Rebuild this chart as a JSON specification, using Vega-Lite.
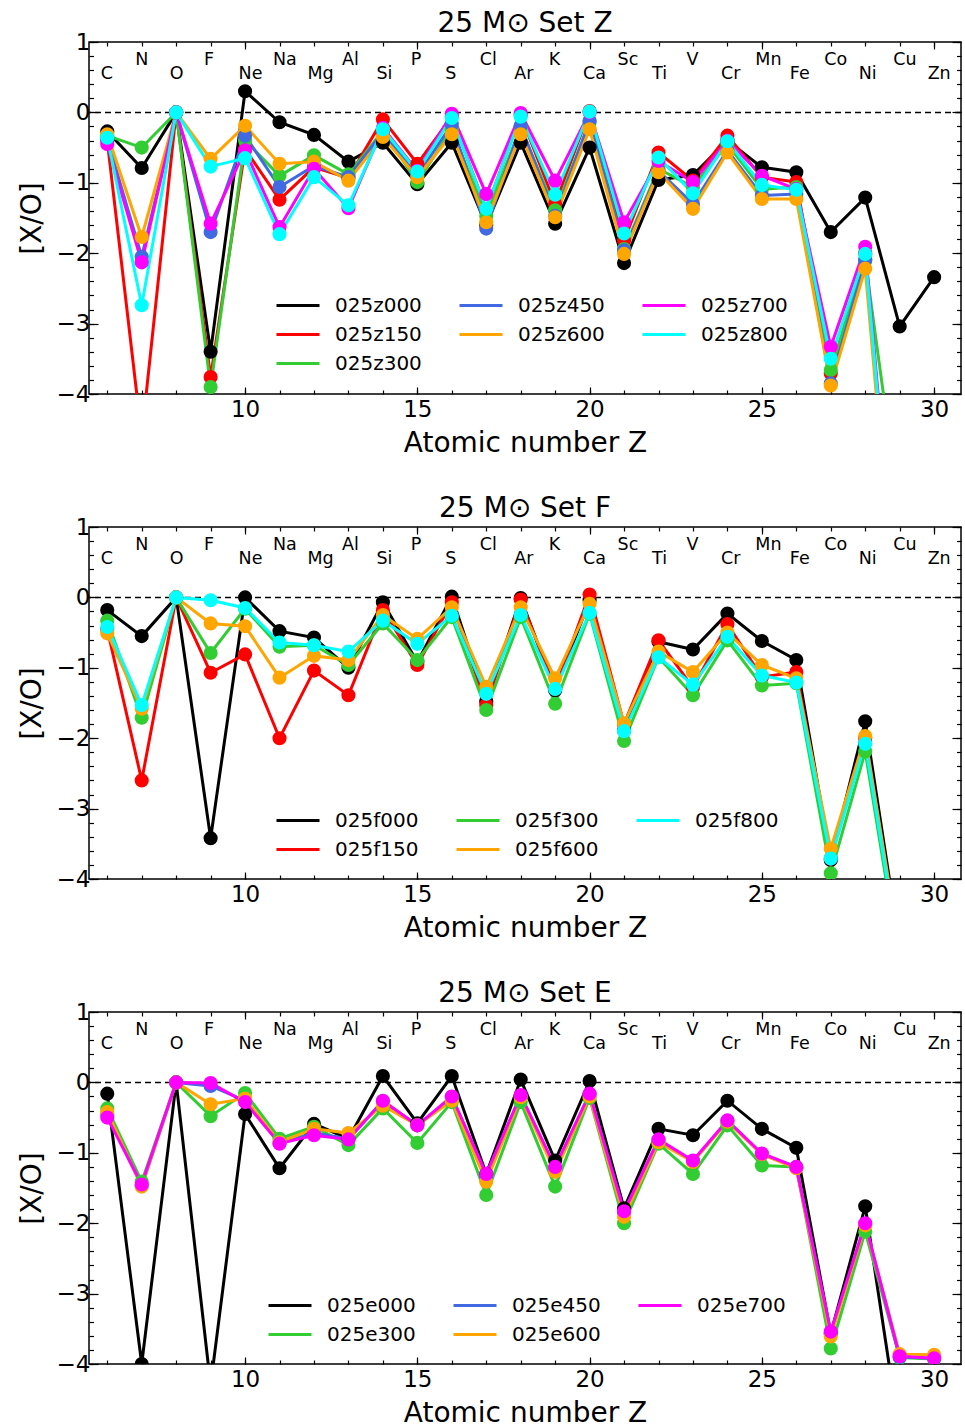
{
  "$schema": "https://vega.github.io/schema/vega-lite/v6.json",
  "background": "white",
  "padding": {"left": 17, "top": 9, "right": 0, "bottom": 0},
  "config": {
    "font": "DejaVu Sans",
    "view": {"stroke": "black", "strokeWidth": 1.5},
    "axis": {"domain": false, "grid": false, "labelFont": "DejaVu Sans", "labelFontSize": 23, "labelColor": "black", "tickColor": "black", "tickWidth": 1.2, "titleFont": "DejaVu Sans", "titleFontSize": 28, "titleFontWeight": "normal", "titleColor": "black"},
    "legend": {"labelFont": "DejaVu Sans", "labelFontSize": 20, "labelColor": "black", "symbolType": "stroke", "symbolSize": 1849, "symbolStrokeWidth": 3, "labelOffset": 14, "columnPadding": 36, "rowPadding": 0, "clipHeight": 29},
    "title": {"font": "DejaVu Sans", "fontSize": 28, "fontWeight": "normal", "color": "black", "offset": -7}
  },
  "datasets": {
    "elements": [
      {"Z": 6, "el": "C"}, {"Z": 7, "el": "N"}, {"Z": 8, "el": "O"}, {"Z": 9, "el": "F"}, {"Z": 10, "el": "Ne"},
      {"Z": 11, "el": "Na"}, {"Z": 12, "el": "Mg"}, {"Z": 13, "el": "Al"}, {"Z": 14, "el": "Si"}, {"Z": 15, "el": "P"},
      {"Z": 16, "el": "S"}, {"Z": 17, "el": "Cl"}, {"Z": 18, "el": "Ar"}, {"Z": 19, "el": "K"}, {"Z": 20, "el": "Ca"},
      {"Z": 21, "el": "Sc"}, {"Z": 22, "el": "Ti"}, {"Z": 23, "el": "V"}, {"Z": 24, "el": "Cr"}, {"Z": 25, "el": "Mn"},
      {"Z": 26, "el": "Fe"}, {"Z": 27, "el": "Co"}, {"Z": 28, "el": "Ni"}, {"Z": 29, "el": "Cu"}, {"Z": 30, "el": "Zn"}
    ],
    "setZ": [
      {"Z": 6, "025z000": -0.27, "025z150": -0.40, "025z300": -0.33, "025z450": -0.38, "025z600": -0.31, "025z700": -0.45, "025z800": -0.36},
      {"Z": 7, "025z000": -0.79, "025z150": -4.6, "025z300": -0.50, "025z450": -2.05, "025z600": -1.77, "025z700": -2.13, "025z800": -2.74},
      {"Z": 8, "025z000": 0, "025z150": 0, "025z300": 0, "025z450": 0, "025z600": 0, "025z700": 0, "025z800": 0},
      {"Z": 9, "025z000": -3.40, "025z150": -3.76, "025z300": -3.90, "025z450": -1.70, "025z600": -0.66, "025z700": -1.58, "025z800": -0.77},
      {"Z": 10, "025z000": 0.30, "025z150": -0.52, "025z300": -0.40, "025z450": -0.33, "025z600": -0.19, "025z700": -0.54, "025z800": -0.65},
      {"Z": 11, "025z000": -0.14, "025z150": -1.24, "025z300": -0.90, "025z450": -1.06, "025z600": -0.73, "025z700": -1.63, "025z800": -1.73},
      {"Z": 12, "025z000": -0.32, "025z150": -0.78, "025z300": -0.61, "025z450": -0.76, "025z600": -0.70, "025z700": -0.80, "025z800": -0.92},
      {"Z": 13, "025z000": -0.70, "025z150": -0.93, "025z300": -0.88, "025z450": -0.92, "025z600": -0.97, "025z700": -1.36, "025z800": -1.32},
      {"Z": 14, "025z000": -0.43, "025z150": -0.10, "025z300": -0.26, "025z450": -0.28, "025z600": -0.35, "025z700": -0.22, "025z800": -0.24},
      {"Z": 15, "025z000": -1.02, "025z150": -0.73, "025z300": -0.99, "025z450": -0.90, "025z600": -0.92, "025z700": -0.83, "025z800": -0.84},
      {"Z": 16, "025z000": -0.43, "025z150": -0.06, "025z300": -0.24, "025z450": -0.17, "025z600": -0.31, "025z700": -0.02, "025z800": -0.08},
      {"Z": 17, "025z000": -1.60, "025z150": -1.38, "025z300": -1.47, "025z450": -1.65, "025z600": -1.56, "025z700": -1.16, "025z800": -1.37},
      {"Z": 18, "025z000": -0.43, "025z150": -0.04, "025z300": -0.21, "025z450": -0.19, "025z600": -0.31, "025z700": -0.01, "025z800": -0.06},
      {"Z": 19, "025z000": -1.58, "025z150": -1.30, "025z300": -1.39, "025z450": -1.47, "025z600": -1.49, "025z700": -0.97, "025z800": -1.17},
      {"Z": 20, "025z000": -0.50, "025z150": 0.02, "025z300": -0.14, "025z450": -0.12, "025z600": -0.24, "025z700": 0.00, "025z800": 0.01},
      {"Z": 21, "025z000": -2.14, "025z150": -1.82, "025z300": -1.94, "025z450": -1.96, "025z600": -2.01, "025z700": -1.56, "025z800": -1.72},
      {"Z": 22, "025z000": -0.96, "025z150": -0.57, "025z300": -0.80, "025z450": -0.83, "025z600": -0.85, "025z700": -0.69, "025z800": -0.64},
      {"Z": 23, "025z000": -0.89, "025z150": -0.97, "025z300": -1.06, "025z450": -1.30, "025z600": -1.37, "025z700": -0.99, "025z800": -1.15},
      {"Z": 24, "025z000": -0.40, "025z150": -0.33, "025z300": -0.45, "025z450": -0.54, "025z600": -0.57, "025z700": -0.40, "025z800": -0.41},
      {"Z": 25, "025z000": -0.78, "025z150": -0.92, "025z300": -1.09, "025z450": -1.18, "025z600": -1.23, "025z700": -0.90, "025z800": -1.03},
      {"Z": 26, "025z000": -0.85, "025z150": -0.99, "025z300": -1.06, "025z450": -1.16, "025z600": -1.23, "025z700": -1.09, "025z800": -1.10},
      {"Z": 27, "025z000": -1.70, "025z150": -3.71, "025z300": -3.66, "025z450": -3.85, "025z600": -3.88, "025z700": -3.33, "025z800": -3.50},
      {"Z": 28, "025z000": -1.21, "025z150": -2.00, "025z300": -2.10, "025z450": -2.10, "025z600": -2.22, "025z700": -1.91, "025z800": -2.01},
      {"Z": 29, "025z000": -3.04, "025z150": -7.6, "025z300": -5.7, "025z450": -7.7, "025z600": -7.8, "025z700": -7.5, "025z800": -7.6},
      {"Z": 30, "025z000": -2.34}
    ],
    "setF": [
      {"Z": 6, "025f000": -0.18, "025f150": -0.45, "025f300": -0.33, "025f600": -0.51, "025f800": -0.42},
      {"Z": 7, "025f000": -0.55, "025f150": -2.60, "025f300": -1.71, "025f600": -1.58, "025f800": -1.53},
      {"Z": 8, "025f000": 0, "025f150": 0, "025f300": 0, "025f600": 0, "025f800": 0},
      {"Z": 9, "025f000": -3.42, "025f150": -1.07, "025f300": -0.79, "025f600": -0.37, "025f800": -0.04},
      {"Z": 10, "025f000": 0.00, "025f150": -0.81, "025f300": -0.16, "025f600": -0.41, "025f800": -0.15},
      {"Z": 11, "025f000": -0.48, "025f150": -2.00, "025f300": -0.70, "025f600": -1.14, "025f800": -0.64},
      {"Z": 12, "025f000": -0.57, "025f150": -1.04, "025f300": -0.68, "025f600": -0.83, "025f800": -0.68},
      {"Z": 13, "025f000": -1.00, "025f150": -1.39, "025f300": -0.96, "025f600": -0.89, "025f800": -0.77},
      {"Z": 14, "025f000": -0.07, "025f150": -0.18, "025f300": -0.37, "025f600": -0.25, "025f800": -0.33},
      {"Z": 15, "025f000": -0.92, "025f150": -0.96, "025f300": -0.89, "025f600": -0.59, "025f800": -0.66},
      {"Z": 16, "025f000": 0.01, "025f150": -0.07, "025f300": -0.28, "025f600": -0.14, "025f800": -0.26},
      {"Z": 17, "025f000": -1.48, "025f150": -1.53, "025f300": -1.60, "025f600": -1.27, "025f800": -1.37},
      {"Z": 18, "025f000": -0.01, "025f150": -0.03, "025f300": -0.28, "025f600": -0.14, "025f800": -0.25},
      {"Z": 19, "025f000": -1.32, "025f150": -1.30, "025f300": -1.51, "025f600": -1.15, "025f800": -1.30},
      {"Z": 20, "025f000": -0.04, "025f150": 0.04, "025f300": -0.23, "025f600": -0.09, "025f800": -0.22},
      {"Z": 21, "025f000": -1.89, "025f150": -1.80, "025f300": -2.04, "025f600": -1.79, "025f800": -1.90},
      {"Z": 22, "025f000": -0.63, "025f150": -0.61, "025f300": -0.85, "025f600": -0.77, "025f800": -0.85},
      {"Z": 23, "025f000": -0.74, "025f150": -1.28, "025f300": -1.39, "025f600": -1.06, "025f800": -1.24},
      {"Z": 24, "025f000": -0.23, "025f150": -0.38, "025f300": -0.61, "025f600": -0.50, "025f800": -0.56},
      {"Z": 25, "025f000": -0.62, "025f150": -1.13, "025f300": -1.25, "025f600": -0.96, "025f800": -1.11},
      {"Z": 26, "025f000": -0.89, "025f150": -1.06, "025f300": -1.22, "025f600": -1.15, "025f800": -1.21},
      {"Z": 27, "025f000": -3.73, "025f150": -3.71, "025f300": -3.92, "025f600": -3.57, "025f800": -3.71},
      {"Z": 28, "025f000": -1.76, "025f150": -2.00, "025f300": -2.19, "025f600": -1.97, "025f800": -2.08},
      {"Z": 29, "025f000": -4.95, "025f150": -5.05, "025f300": -5.2, "025f600": -5.0, "025f800": -5.1}
    ],
    "setE": [
      {"Z": 6, "025e000": -0.16, "025e300": -0.37, "025e450": -0.45, "025e600": -0.42, "025e700": -0.50},
      {"Z": 7, "025e000": -4.0, "025e300": -1.41, "025e450": -1.47, "025e600": -1.48, "025e700": -1.45},
      {"Z": 8, "025e000": 0, "025e300": 0, "025e450": 0, "025e600": 0, "025e700": 0},
      {"Z": 9, "025e000": -4.3, "025e300": -0.48, "025e450": -0.05, "025e600": -0.31, "025e700": -0.01},
      {"Z": 10, "025e000": -0.45, "025e300": -0.15, "025e450": -0.26, "025e600": -0.23, "025e700": -0.28},
      {"Z": 11, "025e000": -1.22, "025e300": -0.80, "025e450": -0.86, "025e600": -0.85, "025e700": -0.87},
      {"Z": 12, "025e000": -0.59, "025e300": -0.63, "025e450": -0.72, "025e600": -0.66, "025e700": -0.75},
      {"Z": 13, "025e000": -0.80, "025e300": -0.89, "025e450": -0.80, "025e600": -0.72, "025e700": -0.81},
      {"Z": 14, "025e000": 0.09, "025e300": -0.37, "025e450": -0.27, "025e600": -0.33, "025e700": -0.26},
      {"Z": 15, "025e000": -0.58, "025e300": -0.86, "025e450": -0.61, "025e600": -0.61, "025e700": -0.61},
      {"Z": 16, "025e000": 0.09, "025e300": -0.28, "025e450": -0.21, "025e600": -0.26, "025e700": -0.20},
      {"Z": 17, "025e000": -1.30, "025e300": -1.60, "025e450": -1.33, "025e600": -1.41, "025e700": -1.30},
      {"Z": 18, "025e000": 0.04, "025e300": -0.28, "025e450": -0.19, "025e600": -0.21, "025e700": -0.18},
      {"Z": 19, "025e000": -1.11, "025e300": -1.48, "025e450": -1.22, "025e600": -1.27, "025e700": -1.20},
      {"Z": 20, "025e000": 0.02, "025e300": -0.22, "025e450": -0.17, "025e600": -0.20, "025e700": -0.16},
      {"Z": 21, "025e000": -1.79, "025e300": -2.00, "025e450": -1.85, "025e600": -1.91, "025e700": -1.83},
      {"Z": 22, "025e000": -0.66, "025e300": -0.87, "025e450": -0.82, "025e600": -0.85, "025e700": -0.81},
      {"Z": 23, "025e000": -0.75, "025e300": -1.30, "025e450": -1.12, "025e600": -1.13, "025e700": -1.11},
      {"Z": 24, "025e000": -0.26, "025e300": -0.61, "025e450": -0.55, "025e600": -0.56, "025e700": -0.54},
      {"Z": 25, "025e000": -0.66, "025e300": -1.18, "025e450": -1.02, "025e600": -1.02, "025e700": -1.01},
      {"Z": 26, "025e000": -0.93, "025e300": -1.20, "025e450": -1.21, "025e600": -1.22, "025e700": -1.20},
      {"Z": 27, "025e000": -3.57, "025e300": -3.78, "025e450": -3.56, "025e600": -3.61, "025e700": -3.54},
      {"Z": 28, "025e000": -1.76, "025e300": -2.12, "025e450": -2.02, "025e600": -2.03, "025e700": -2.00},
      {"Z": 29, "025e000": -5.0, "025e300": -3.91, "025e450": -3.90, "025e600": -3.86, "025e700": -3.89},
      {"Z": 30, "025e300": -3.93, "025e450": -3.92, "025e600": -3.87, "025e700": -3.92}
    ]
  },
  "spacing": 36,
  "resolve": {"scale": {"color": "independent"}, "legend": {"color": "independent"}},
  "vconcat": [
    {
      "title": {"text": "25 M⊙ Set Z"},
      "width": 872, "height": 352,
      "data": {"name": "setZ"},
      "transform": [{"fold": ["025z000", "025z150", "025z300", "025z450", "025z600", "025z700", "025z800"], "as": ["s", "v"]}],
      "resolve": {"axis": {"x": "independent", "y": "independent"}},
      "layer": [
        {"mark": {"type": "point", "opacity": 0, "clip": true}, "encoding": {
          "x": {"field": "Z", "type": "quantitative", "scale": {"domain": [5.47, 30.78], "nice": false, "zero": false}, "axis": {"orient": "bottom", "values": [10, 15, 20, 25, 30], "format": "d", "tickSize": -7, "labelPadding": 11, "title": "Atomic number Z", "titlePadding": 8}},
          "y": {"field": "v", "type": "quantitative", "scale": {"domain": [-4, 1], "nice": false, "zero": false}, "axis": {"orient": "left", "values": [-4, -3, -2, -1, 0, 1], "format": "d", "tickSize": -9, "labelPadding": 8, "title": "[X/O]", "titlePadding": 10}}}},
        {"mark": {"type": "point", "opacity": 0, "clip": true}, "encoding": {
          "x": {"field": "Z", "type": "quantitative", "axis": {"orient": "bottom", "values": [6, 7, 8, 9, 10, 11, 12, 13, 14, 15, 16, 17, 18, 19, 20, 21, 22, 23, 24, 25, 26, 27, 28, 29, 30], "tickSize": -4, "labels": false, "title": null}},
          "y": {"field": "v", "type": "quantitative", "axis": {"orient": "left", "values": [-4, -3.8, -3.6, -3.4, -3.2, -3, -2.8, -2.6, -2.4, -2.2, -2, -1.8, -1.6, -1.4, -1.2, -1, -0.8, -0.6, -0.4, -0.2, 0, 0.2, 0.4, 0.6, 0.8, 1], "tickSize": -4.5, "labels": false, "title": null}}}},
        {"mark": {"type": "point", "opacity": 0, "clip": true}, "encoding": {
          "x": {"field": "Z", "type": "quantitative", "axis": {"orient": "top", "values": [10, 15, 20, 25, 30], "tickSize": -7, "labels": false, "title": null}},
          "y": {"field": "v", "type": "quantitative", "axis": {"orient": "right", "values": [-4, -3, -2, -1, 0, 1], "tickSize": -9, "labels": false, "title": null}}}},
        {"mark": {"type": "point", "opacity": 0, "clip": true}, "encoding": {
          "x": {"field": "Z", "type": "quantitative", "axis": {"orient": "top", "values": [6, 7, 8, 9, 10, 11, 12, 13, 14, 15, 16, 17, 18, 19, 20, 21, 22, 23, 24, 25, 26, 27, 28, 29, 30], "tickSize": -4, "labels": false, "title": null}},
          "y": {"field": "v", "type": "quantitative", "axis": {"orient": "right", "values": [-4, -3.8, -3.6, -3.4, -3.2, -3, -2.8, -2.6, -2.4, -2.2, -2, -1.8, -1.6, -1.4, -1.2, -1, -0.8, -0.6, -0.4, -0.2, 0, 0.2, 0.4, 0.6, 0.8, 1], "tickSize": -4.5, "labels": false, "title": null}}}},
        {"data": {"values": [{}]}, "mark": {"type": "rule", "strokeDash": [6, 4], "strokeWidth": 1.5, "color": "black"}, "encoding": {"y": {"datum": 0, "type": "quantitative", "axis": null}}},
        {"mark": {"type": "line", "strokeWidth": 3, "clip": true}, "encoding": {
          "x": {"field": "Z", "type": "quantitative", "axis": null},
          "y": {"field": "v", "type": "quantitative", "axis": null},
          "color": {"field": "s", "type": "nominal",
            "scale": {"domain": ["025z000", "025z150", "025z800", "025z450", "025z600", "025z300", "025z700"], "range": ["#000000", "#ff0000", "#00ffff", "#4169e1", "#ffa500", "#32cd32", "#ff00ff"]},
            "legend": {"orient": "none", "legendX": 186, "legendY": 249, "columns": 3, "title": null}}}},
        {"mark": {"type": "circle", "size": 200, "opacity": 1, "clip": true}, "encoding": {
          "x": {"field": "Z", "type": "quantitative", "axis": null},
          "y": {"field": "v", "type": "quantitative", "axis": null},
          "color": {"field": "s", "type": "nominal",
            "scale": {"domain": ["025z000", "025z150", "025z800", "025z450", "025z600", "025z300", "025z700"], "range": ["#000000", "#ff0000", "#00ffff", "#4169e1", "#ffa500", "#32cd32", "#ff00ff"]},
            "legend": null}}},
        {"data": {"name": "elements"}, "transform": [{"filter": "datum.Z % 2 == 0"}],
          "mark": {"type": "text", "align": "left", "dx": -6.5, "baseline": "middle", "fontSize": 17.5, "font": "DejaVu Sans", "color": "black"},
          "encoding": {"x": {"field": "Z", "type": "quantitative", "axis": null}, "y": {"datum": 0.54, "type": "quantitative", "axis": null}, "text": {"field": "el"}}},
        {"data": {"name": "elements"}, "transform": [{"filter": "datum.Z % 2 == 1"}],
          "mark": {"type": "text", "align": "left", "dx": -6.5, "baseline": "middle", "fontSize": 17.5, "font": "DejaVu Sans", "color": "black"},
          "encoding": {"x": {"field": "Z", "type": "quantitative", "axis": null}, "y": {"datum": 0.74, "type": "quantitative", "axis": null}, "text": {"field": "el"}}}
      ]
    },
    {
      "title": {"text": "25 M⊙ Set F"},
      "width": 872, "height": 352,
      "data": {"name": "setF"},
      "transform": [{"fold": ["025f000", "025f150", "025f300", "025f600", "025f800"], "as": ["s", "v"]}],
      "resolve": {"axis": {"x": "independent", "y": "independent"}},
      "layer": [
        {"mark": {"type": "point", "opacity": 0, "clip": true}, "encoding": {
          "x": {"field": "Z", "type": "quantitative", "scale": {"domain": [5.47, 30.78], "nice": false, "zero": false}, "axis": {"orient": "bottom", "values": [10, 15, 20, 25, 30], "format": "d", "tickSize": -7, "labelPadding": 11, "title": "Atomic number Z", "titlePadding": 8}},
          "y": {"field": "v", "type": "quantitative", "scale": {"domain": [-4, 1], "nice": false, "zero": false}, "axis": {"orient": "left", "values": [-4, -3, -2, -1, 0, 1], "format": "d", "tickSize": -9, "labelPadding": 8, "title": "[X/O]", "titlePadding": 10}}}},
        {"mark": {"type": "point", "opacity": 0, "clip": true}, "encoding": {
          "x": {"field": "Z", "type": "quantitative", "axis": {"orient": "bottom", "values": [6, 7, 8, 9, 10, 11, 12, 13, 14, 15, 16, 17, 18, 19, 20, 21, 22, 23, 24, 25, 26, 27, 28, 29, 30], "tickSize": -4, "labels": false, "title": null}},
          "y": {"field": "v", "type": "quantitative", "axis": {"orient": "left", "values": [-4, -3.8, -3.6, -3.4, -3.2, -3, -2.8, -2.6, -2.4, -2.2, -2, -1.8, -1.6, -1.4, -1.2, -1, -0.8, -0.6, -0.4, -0.2, 0, 0.2, 0.4, 0.6, 0.8, 1], "tickSize": -4.5, "labels": false, "title": null}}}},
        {"mark": {"type": "point", "opacity": 0, "clip": true}, "encoding": {
          "x": {"field": "Z", "type": "quantitative", "axis": {"orient": "top", "values": [10, 15, 20, 25, 30], "tickSize": -7, "labels": false, "title": null}},
          "y": {"field": "v", "type": "quantitative", "axis": {"orient": "right", "values": [-4, -3, -2, -1, 0, 1], "tickSize": -9, "labels": false, "title": null}}}},
        {"mark": {"type": "point", "opacity": 0, "clip": true}, "encoding": {
          "x": {"field": "Z", "type": "quantitative", "axis": {"orient": "top", "values": [6, 7, 8, 9, 10, 11, 12, 13, 14, 15, 16, 17, 18, 19, 20, 21, 22, 23, 24, 25, 26, 27, 28, 29, 30], "tickSize": -4, "labels": false, "title": null}},
          "y": {"field": "v", "type": "quantitative", "axis": {"orient": "right", "values": [-4, -3.8, -3.6, -3.4, -3.2, -3, -2.8, -2.6, -2.4, -2.2, -2, -1.8, -1.6, -1.4, -1.2, -1, -0.8, -0.6, -0.4, -0.2, 0, 0.2, 0.4, 0.6, 0.8, 1], "tickSize": -4.5, "labels": false, "title": null}}}},
        {"data": {"values": [{}]}, "mark": {"type": "rule", "strokeDash": [6, 4], "strokeWidth": 1.5, "color": "black"}, "encoding": {"y": {"datum": 0, "type": "quantitative", "axis": null}}},
        {"mark": {"type": "line", "strokeWidth": 3, "clip": true}, "encoding": {
          "x": {"field": "Z", "type": "quantitative", "axis": null},
          "y": {"field": "v", "type": "quantitative", "axis": null},
          "color": {"field": "s", "type": "nominal",
            "scale": {"domain": ["025f000", "025f150", "025f300", "025f600", "025f800"], "range": ["#000000", "#ff0000", "#32cd32", "#ffa500", "#00ffff"]},
            "legend": {"orient": "none", "legendX": 186, "legendY": 279, "columns": 3, "title": null}}}},
        {"mark": {"type": "circle", "size": 200, "opacity": 1, "clip": true}, "encoding": {
          "x": {"field": "Z", "type": "quantitative", "axis": null},
          "y": {"field": "v", "type": "quantitative", "axis": null},
          "color": {"field": "s", "type": "nominal",
            "scale": {"domain": ["025f000", "025f150", "025f300", "025f600", "025f800"], "range": ["#000000", "#ff0000", "#32cd32", "#ffa500", "#00ffff"]},
            "legend": null}}},
        {"data": {"name": "elements"}, "transform": [{"filter": "datum.Z % 2 == 0"}],
          "mark": {"type": "text", "align": "left", "dx": -6.5, "baseline": "middle", "fontSize": 17.5, "font": "DejaVu Sans", "color": "black"},
          "encoding": {"x": {"field": "Z", "type": "quantitative", "axis": null}, "y": {"datum": 0.54, "type": "quantitative", "axis": null}, "text": {"field": "el"}}},
        {"data": {"name": "elements"}, "transform": [{"filter": "datum.Z % 2 == 1"}],
          "mark": {"type": "text", "align": "left", "dx": -6.5, "baseline": "middle", "fontSize": 17.5, "font": "DejaVu Sans", "color": "black"},
          "encoding": {"x": {"field": "Z", "type": "quantitative", "axis": null}, "y": {"datum": 0.74, "type": "quantitative", "axis": null}, "text": {"field": "el"}}}
      ]
    },
    {
      "title": {"text": "25 M⊙ Set E"},
      "width": 872, "height": 352,
      "data": {"name": "setE"},
      "transform": [{"fold": ["025e000", "025e300", "025e450", "025e600", "025e700"], "as": ["s", "v"]}],
      "resolve": {"axis": {"x": "independent", "y": "independent"}},
      "layer": [
        {"mark": {"type": "point", "opacity": 0, "clip": true}, "encoding": {
          "x": {"field": "Z", "type": "quantitative", "scale": {"domain": [5.47, 30.78], "nice": false, "zero": false}, "axis": {"orient": "bottom", "values": [10, 15, 20, 25, 30], "format": "d", "tickSize": -7, "labelPadding": 11, "title": "Atomic number Z", "titlePadding": 8}},
          "y": {"field": "v", "type": "quantitative", "scale": {"domain": [-4, 1], "nice": false, "zero": false}, "axis": {"orient": "left", "values": [-4, -3, -2, -1, 0, 1], "format": "d", "tickSize": -9, "labelPadding": 8, "title": "[X/O]", "titlePadding": 10}}}},
        {"mark": {"type": "point", "opacity": 0, "clip": true}, "encoding": {
          "x": {"field": "Z", "type": "quantitative", "axis": {"orient": "bottom", "values": [6, 7, 8, 9, 10, 11, 12, 13, 14, 15, 16, 17, 18, 19, 20, 21, 22, 23, 24, 25, 26, 27, 28, 29, 30], "tickSize": -4, "labels": false, "title": null}},
          "y": {"field": "v", "type": "quantitative", "axis": {"orient": "left", "values": [-4, -3.8, -3.6, -3.4, -3.2, -3, -2.8, -2.6, -2.4, -2.2, -2, -1.8, -1.6, -1.4, -1.2, -1, -0.8, -0.6, -0.4, -0.2, 0, 0.2, 0.4, 0.6, 0.8, 1], "tickSize": -4.5, "labels": false, "title": null}}}},
        {"mark": {"type": "point", "opacity": 0, "clip": true}, "encoding": {
          "x": {"field": "Z", "type": "quantitative", "axis": {"orient": "top", "values": [10, 15, 20, 25, 30], "tickSize": -7, "labels": false, "title": null}},
          "y": {"field": "v", "type": "quantitative", "axis": {"orient": "right", "values": [-4, -3, -2, -1, 0, 1], "tickSize": -9, "labels": false, "title": null}}}},
        {"mark": {"type": "point", "opacity": 0, "clip": true}, "encoding": {
          "x": {"field": "Z", "type": "quantitative", "axis": {"orient": "top", "values": [6, 7, 8, 9, 10, 11, 12, 13, 14, 15, 16, 17, 18, 19, 20, 21, 22, 23, 24, 25, 26, 27, 28, 29, 30], "tickSize": -4, "labels": false, "title": null}},
          "y": {"field": "v", "type": "quantitative", "axis": {"orient": "right", "values": [-4, -3.8, -3.6, -3.4, -3.2, -3, -2.8, -2.6, -2.4, -2.2, -2, -1.8, -1.6, -1.4, -1.2, -1, -0.8, -0.6, -0.4, -0.2, 0, 0.2, 0.4, 0.6, 0.8, 1], "tickSize": -4.5, "labels": false, "title": null}}}},
        {"data": {"values": [{}]}, "mark": {"type": "rule", "strokeDash": [6, 4], "strokeWidth": 1.5, "color": "black"}, "encoding": {"y": {"datum": 0, "type": "quantitative", "axis": null}}},
        {"mark": {"type": "line", "strokeWidth": 3, "clip": true}, "encoding": {
          "x": {"field": "Z", "type": "quantitative", "axis": null},
          "y": {"field": "v", "type": "quantitative", "axis": null},
          "color": {"field": "s", "type": "nominal",
            "scale": {"domain": ["025e000", "025e300", "025e450", "025e600", "025e700"], "range": ["#000000", "#32cd32", "#4169e1", "#ffa500", "#ff00ff"]},
            "legend": {"orient": "none", "legendX": 178, "legendY": 279, "columns": 3, "title": null}}}},
        {"mark": {"type": "circle", "size": 200, "opacity": 1, "clip": true}, "encoding": {
          "x": {"field": "Z", "type": "quantitative", "axis": null},
          "y": {"field": "v", "type": "quantitative", "axis": null},
          "color": {"field": "s", "type": "nominal",
            "scale": {"domain": ["025e000", "025e300", "025e450", "025e600", "025e700"], "range": ["#000000", "#32cd32", "#4169e1", "#ffa500", "#ff00ff"]},
            "legend": null}}},
        {"data": {"name": "elements"}, "transform": [{"filter": "datum.Z % 2 == 0"}],
          "mark": {"type": "text", "align": "left", "dx": -6.5, "baseline": "middle", "fontSize": 17.5, "font": "DejaVu Sans", "color": "black"},
          "encoding": {"x": {"field": "Z", "type": "quantitative", "axis": null}, "y": {"datum": 0.54, "type": "quantitative", "axis": null}, "text": {"field": "el"}}},
        {"data": {"name": "elements"}, "transform": [{"filter": "datum.Z % 2 == 1"}],
          "mark": {"type": "text", "align": "left", "dx": -6.5, "baseline": "middle", "fontSize": 17.5, "font": "DejaVu Sans", "color": "black"},
          "encoding": {"x": {"field": "Z", "type": "quantitative", "axis": null}, "y": {"datum": 0.74, "type": "quantitative", "axis": null}, "text": {"field": "el"}}}
      ]
    }
  ]
}
